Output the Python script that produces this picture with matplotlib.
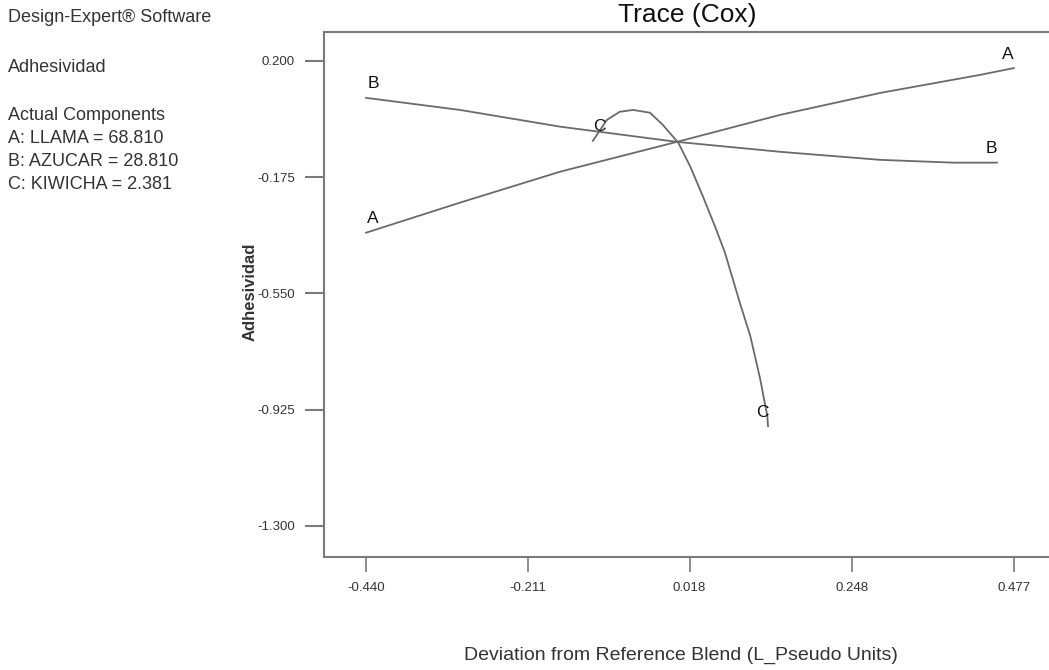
import matplotlib
matplotlib.use('Agg')
import matplotlib.pyplot as plt

plt.rcParams['font.family'] = ['Liberation Sans', 'DejaVu Sans']

# trace data (deviation, response)
a_dev = [-0.440, -0.307, -0.165, 0.000, 0.146, 0.288, 0.429, 0.477]
a_resp = [-0.354, -0.257, -0.157, -0.061, 0.026, 0.097, 0.155, 0.177]

b_dev = [-0.440, -0.307, -0.165, 0.000, 0.146, 0.288, 0.391, 0.453]
b_resp = [0.081, 0.042, -0.012, -0.061, -0.093, -0.119, -0.128, -0.128]

c_dev = [-0.119, -0.099, -0.081, -0.062, -0.038, -0.020, 0.002, 0.019,
         0.037, 0.054, 0.068, 0.078, 0.089, 0.104, 0.118, 0.128, 0.129]
c_resp = [-0.058, 0.010, 0.036, 0.042, 0.033, -0.006, -0.064, -0.141,
          -0.238, -0.334, -0.418, -0.495, -0.579, -0.688, -0.827, -0.946,
          -0.978]

x_ticks = [-0.440, -0.211, 0.018, 0.248, 0.477]
y_ticks = [0.200, -0.175, -0.550, -0.925, -1.300]

info_lines = ['Actual Components', 'A: LLAMA = 68.810',
              'B: AZUCAR = 28.810', 'C: KIWICHA = 2.381']

line_col = '#6a6a6a'
text_col = '#333333'

fig = plt.figure(figsize=(10.49, 6.70), dpi=100)
ax = fig.add_axes([324 / 1049, 1 - 557 / 670, 725 / 1049, 525 / 670])

series = [('A', a_dev, a_resp), ('B', b_dev, b_resp), ('C', c_dev, c_resp)]
for name, xs, ys in series:
    ax.plot(xs, ys, color=line_col, lw=1.3)
    # component letter above both ends of each trace
    ax.annotate(name, (xs[0], ys[0]), xytext=(7, 14), textcoords='offset pixels',
                ha='center', va='center', fontsize=12.5, color='#111111')
    ax.annotate(name, (xs[-1], ys[-1]), xytext=(-6, 14), textcoords='offset pixels',
                ha='center', va='center', fontsize=12.5, color='#111111')

ax.set_xlim(-0.4995, 0.5267)
ax.set_ylim(-1.400, 0.2934)
ax.set_xticks(x_ticks)
ax.set_xticklabels(['%.3f' % v for v in x_ticks])
ax.set_yticks(y_ticks)
ax.set_yticklabels(['%.3f' % v for v in y_ticks])

ax.spines['right'].set_visible(False)
for s in ['left', 'bottom', 'top']:
    ax.spines[s].set_color('#7a7a7a')
    ax.spines[s].set_linewidth(1.5)
ax.tick_params(axis='y', direction='out', length=14, width=1.5, color='#7a7a7a',
               pad=7, labelsize=9.5, labelcolor=text_col)
ax.tick_params(axis='x', direction='out', length=11, width=1.2, color='#7a7a7a',
               pad=7, labelsize=9.5, labelcolor=text_col)

fig.text(687 / 1049, 1 - 15 / 670, 'Trace (Cox)', ha='center', va='center',
         fontsize=19, color='#111111')
fig.text(681 / 1049, 1 - 655 / 670, 'Deviation from Reference Blend (L_Pseudo Units)',
         ha='center', va='center', fontsize=14, color=text_col)
fig.text(250 / 1049, 1 - 292 / 670, 'Adhesividad', ha='center', va='center',
         rotation=90, fontsize=12, fontweight='bold', color=text_col)

fig.text(8 / 1049, 1 - 18 / 670, 'Design-Expert\u00ae Software', ha='left',
         va='center', fontsize=13, color=text_col)
fig.text(8 / 1049, 1 - 67 / 670, 'Adhesividad', ha='left', va='center',
         fontsize=13, color=text_col)
for i, line in enumerate(info_lines):
    fig.text(8 / 1049, 1 - (115 + 23.3 * i) / 670, line, ha='left', va='center',
             fontsize=13, color=text_col)

fig.savefig('out.png', dpi=100)
